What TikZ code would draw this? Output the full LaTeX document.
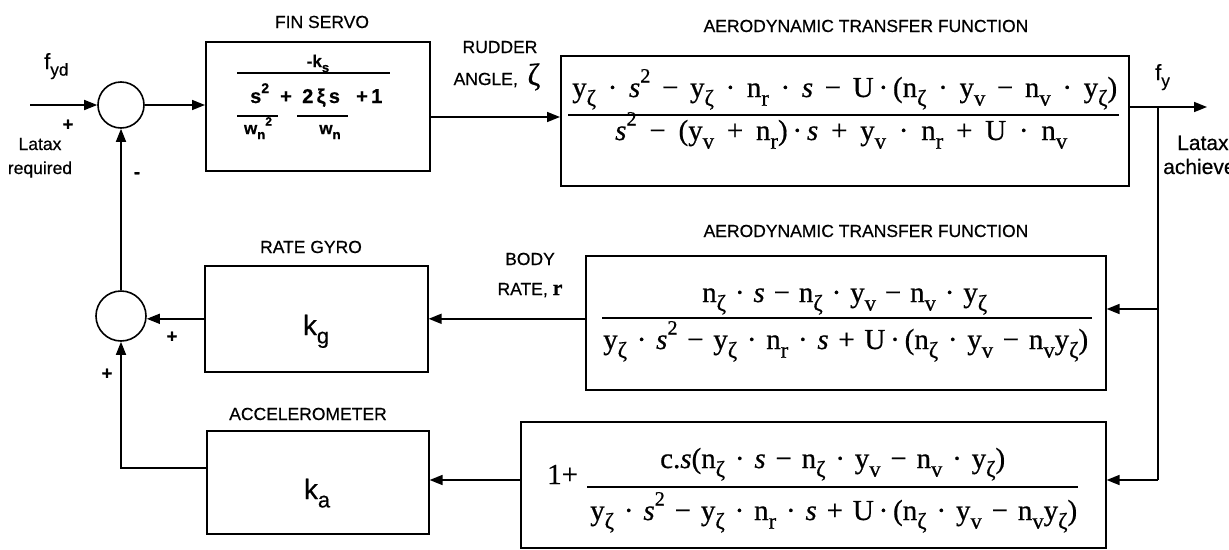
\documentclass[tikz,border=0pt]{standalone}
\usepackage{fontspec}
\usepackage{graphicx}
\setmainfont{Liberation Sans}[FakeBold=0.5]
\newfontfamily\tms{Liberation Serif}[FakeBold=0.6]
\usetikzlibrary{arrows.meta,calc}
\newcommand\Sb[1]{\raisebox{-0.3em}{\scalebox{0.78}{#1}}}
\newcommand\Sp[1]{\raisebox{0.5em}{\scalebox{0.7}{#1}}}
\newcommand\Si{\textit{s}}
\newcommand\Dt{·}
\newcommand\Mn{−}
\tikzset{
  box/.style={draw, line width=1.6pt, anchor=north west, inner sep=0pt},
  sumj/.style={draw, circle, line width=1.6pt, inner sep=0pt},
  conn/.style={line width=1.6pt},
  arr/.style={line width=1.6pt, -{Triangle[length=13pt,width=10pt]}},
  lbl/.style={font=\fontsize{17.5}{20}\selectfont, inner sep=0pt, anchor=base},
  sgn/.style={font=\bfseries\fontsize{18}{18}\selectfont, inner sep=0pt},
  mth/.style={font=\tms\fontsize{29}{32}\selectfont, inner sep=0pt, anchor=base west},
  fin/.style={font=\bfseries\fontsize{20}{22}\selectfont, inner sep=0pt, anchor=base west},
  fins/.style={font=\bfseries\fontsize{17}{18}\selectfont, inner sep=0pt, anchor=base},
  gain/.style={font=\fontsize{28}{30}\selectfont, inner sep=0pt, anchor=base}
}
\begin{document}
\begin{tikzpicture}[x=1pt,y=-1pt]
\useasboundingbox (0,0) rectangle (1229,549);
% blocks
\node[box, minimum width=224pt, minimum height=129pt] (fin) at (205,41) {};
\node[box, minimum width=568pt, minimum height=130pt] (aero1) at (560,55) {};
\node[box, minimum width=223pt, minimum height=106pt] (gyro) at (204,265) {};
\node[box, minimum width=520pt, minimum height=134pt] (mid) at (585,255) {};
\node[box, minimum width=222pt, minimum height=103pt] (acc) at (206,430) {};
\node[box, minimum width=585pt, minimum height=126pt] (bot) at (520,421) {};
% summing junctions
\node[sumj, minimum size=46pt] (s1) at (121,105) {};
\node[sumj, minimum size=50pt] (s2) at (121,316) {};
% coordinates
\coordinate (inp) at (30,105);
\coordinate (a1in) at (560,117);
\coordinate (br) at (1158,107);
\coordinate (fyend) at (1207,107);
\coordinate (brm) at (1158,309);
\coordinate (brb) at (1158,480);
\coordinate (accout) at (206,468);
% connectors
\draw[arr] (inp) -- (s1.west);
\draw[arr] (s1.east) -- (s1.east -| fin.west);
\draw[arr] (fin.east |- a1in) -- (a1in);
\draw[arr] (aero1.east |- br) -- (fyend);
\draw[conn] (br) -- (brb);
\draw[arr] (brm) -- (brm -| mid.east);
\draw[arr] (brb) -- (brb -| bot.east);
\draw[arr] (mid.west |- gyro.east) -- (gyro.east);
\draw[arr] (bot.west |- brb) -- (brb -| acc.east);
\draw[arr] (gyro.west) -- (gyro.west -| s2.east);
\draw[arr] (s2.north) -- (s1.south);
\draw[arr] (accout) -| (s2.south);
% labels
\node[lbl] (tfin) at (322,28) {FIN SERVO};
\node[lbl] (trud) at (500,53) {RUDDER};
\node[lbl] (tang) at (497,85) {ANGLE,\ \ {\tms\fontsize{31}{31}\selectfont ζ}};
\node[lbl] (taero1) at (866,32) {AERODYNAMIC TRANSFER FUNCTION};
\node[lbl] (taero2) at (866,237) {AERODYNAMIC TRANSFER FUNCTION};
\node[lbl] (tbody) at (530,265) {BODY};
\node[lbl] (trate) at (530,295) {RATE, {\tms\bfseries\fontsize{22}{22}\selectfont r}};
\node[lbl] (tgyro) at (311,253) {RATE GYRO};
\node[lbl] (tacc) at (308,420) {ACCELEROMETER};
\node[font=\fontsize{22}{22}\selectfont, inner sep=0pt, anchor=base west] (tfyd) at (44,69) {f\Sb{yd}};
\node[font=\fontsize{22}{22}\selectfont, inner sep=0pt, anchor=base west] (tfy) at (1155,80) {f\Sb{y}};
\node[lbl] (tlr1) at (40,150) {Latax};
\node[lbl] (tlr2) at (40,174) {required};
\node[lbl, font=\fontsize{21}{22}\selectfont, anchor=base west] (tla1) at (1177,150) {Latax};
\node[lbl, font=\fontsize{21}{22}\selectfont, anchor=base west] (tla2) at (1163,174) {achieved};
\node[sgn] (p1) at (68,125) {+};
\node[sgn] (m1) at (137,175) {-};
\node[sgn] (p2) at (172,337) {+};
\node[sgn] (p3) at (107,374) {+};
% fin servo transfer function
\node[fins] (fk) at (318,67) {-k\Sb{s}};
\draw[conn] (237,73) -- (390,73);
\node[fin] (f1) at (250,103) {s\Sp{2}};
\node[fin] (f2) at (280,103) {+};
\node[fin] (f3) at (302,103) {2\,ξ\,s};
\node[fin] (f4) at (356,103) {+\,1};
\draw[conn] (237,116) -- (278,116);
\draw[conn] (297,116) -- (348,116);
\node[fins] (fw1) at (258,134) {w\Sb{n}\Sp{2}};
\node[fins] (fw2) at (330,134) {w\Sb{n}};
% gains
\node[gain] (kg) at (316,335) {k\Sb{g}};
\node[gain] (ka) at (317,499) {k\Sb{a}};
% aerodynamic TF 1
\node[mth] (n1) at (572,97) {\makebox[545pt][s]{y\Sb{ζ} \Dt{} \Si\Sp{2} \Mn{} y\Sb{ζ} \Dt{} n\Sb{r} \Dt{} \Si{} \Mn{} U\,\Dt\,(n\Sb{ζ} \Dt{} y\Sb{v} \Mn{} n\Sb{v} \Dt{} y\Sb{ζ})}};
\draw[conn] (568,115) -- (1119,115);
\node[mth] (d1) at (615,140) {\makebox[452pt][s]{\Si\Sp{2} \Mn{} (y\Sb{v} + n\Sb{r})\,\Dt\,\Si{} + y\Sb{v} \Dt{} n\Sb{r} + U \Dt{} n\Sb{v}}};
% aerodynamic TF 2
\node[mth] (n2) at (702,302) {\makebox[285pt][s]{n\Sb{ζ} \Dt{} \Si{} \Mn{} n\Sb{ζ} \Dt{} y\Sb{v} \Mn{} n\Sb{v} \Dt{} y\Sb{ζ}}};
\draw[conn] (602,318) -- (1092,318);
\node[mth] (d2) at (603,349) {\makebox[485pt][s]{y\Sb{ζ} \Dt{} \Si\Sp{2} \Mn{} y\Sb{ζ} \Dt{} n\Sb{r} \Dt{} \Si{} + U\,\Dt\,(n\Sb{ζ} \Dt{} y\Sb{v} \Mn{} n\Sb{v}y\Sb{ζ})}};
% accelerometer path TF
\node[mth] (one) at (547,484) {1+};
\node[mth] (n3) at (660,468) {\makebox[345pt][s]{c.\Si(n\Sb{ζ} \Dt{} \Si{} \Mn{} n\Sb{ζ} \Dt{} y\Sb{v} \Mn{} n\Sb{v} \Dt{} y\Sb{ζ})}};
\draw[conn] (587,487) -- (1078,487);
\node[mth] (d3) at (590,520) {\makebox[487pt][s]{y\Sb{ζ} \Dt{} \Si\Sp{2} \Mn{} y\Sb{ζ} \Dt{} n\Sb{r} \Dt{} \Si{} + U\,\Dt\,(n\Sb{ζ} \Dt{} y\Sb{v} \Mn{} n\Sb{v}y\Sb{ζ})}};
\end{tikzpicture}
\end{document}
